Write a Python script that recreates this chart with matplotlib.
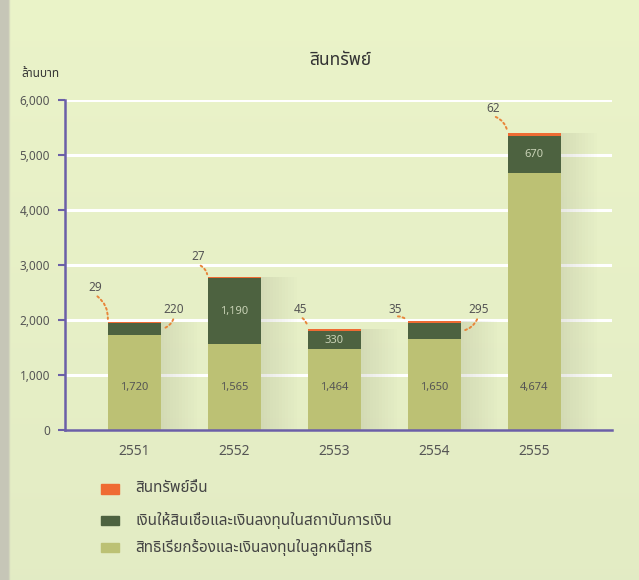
import matplotlib
matplotlib.use("Agg")
import matplotlib.pyplot as plt
import numpy as np
from matplotlib import font_manager
from matplotlib.ft2font import FT2Font
from matplotlib.patches import Rectangle

years = ["2551", "2552", "2553", "2554", "2555"]
receivables = [1720, 1565, 1464, 1650, 4674]
loans = [220, 1190, 330, 295, 670]
other_assets = [29, 27, 45, 35, 62]

series_names = [
    "สินทรัพย์อื่น",
    "เงินให้สินเชื่อและเงินลงทุนในสถาบันการเงิน",
    "สิทธิเรียกร้องและเงินลงทุนในลูกหนี้สุทธิ",
]
title = "สินทรัพย์"
unit_label = "ล้านบาท"
yticks = [0, 1000, 2000, 3000, 4000, 5000, 6000]

C_LIGHT = "#bcc174"
C_DARK = "#4d6240"
C_ORANGE = "#ef6b33"
C_AXIS = "#6b5fa8"
C_TEXT = "#555555"


def thai_family():
    # pick an installed family that actually has Thai glyphs
    found = []
    for f in font_manager.fontManager.ttflist:
        try:
            if 0x0E2A in FT2Font(f.fname).get_charmap():
                found.append(f.name)
        except Exception:
            pass
    for pref in ["Noto Sans Thai", "Noto Sans Thai UI", "Loma", "Garuda", "Tlwg Typo"]:
        if pref in found:
            return pref
    return found[0] if found else "DejaVu Sans"


FAM = [thai_family(), "DejaVu Sans"]
plt.rcParams["font.family"] = FAM

fig = plt.figure(figsize=(6.39, 5.80), dpi=100)
fig.patch.set_facecolor("#e3e9bd")

# soft page background
bg = fig.add_axes([0, 0, 1, 1], zorder=-10)
gy, gx = np.mgrid[0:1:200j, 0:1:200j]
base = np.array([0.89, 0.925, 0.77])
img = np.ones((200, 200, 3)) * base
img += (0.03 * (1 - gy))[..., None] * np.array([1, 1, 0.6])
img[:, :3] = np.array([0.78, 0.78, 0.72])
bg.imshow(np.clip(img, 0, 1), extent=[0, 1, 0, 1], aspect="auto")
bg.axis("off")

ax = fig.add_axes([0.102, 0.2586, 0.856, 0.569])
ax.set_facecolor("none")
x = np.arange(len(years))
w = 0.53

ax.set_xlim(-0.69, 4.78)
ax.set_ylim(0, 6000)
for yv in yticks[1:]:
    ax.axhline(yv, color="white", lw=2.2, zorder=1)

# faded shadows to the right of each bar
totals = np.array(receivables) + np.array(loans) + np.array(other_assets)
for k in range(12):
    ax.bar(x + w / 2 + 0.03 * k + 0.015, totals, width=0.03, color="#85856c",
           alpha=0.18 * (1 - k / 12), zorder=1.5, linewidth=0)

ax.bar(x, receivables, w, color=C_LIGHT, zorder=2)
ax.bar(x, loans, w, bottom=receivables, color=C_DARK, zorder=2)
bottom2 = np.array(receivables) + np.array(loans)
ax.bar(x, other_assets, w, bottom=bottom2, color=C_ORANGE, zorder=2)

for xi, v in zip(x, receivables):
    ax.text(xi, 780, f"{v:,}", ha="center", va="center", fontsize=8,
            color=C_TEXT, zorder=3)
for i in [1, 2, 4]:
    ax.text(x[i], receivables[i] + loans[i] / 2, f"{loans[i]:,}", ha="center",
            va="center", fontsize=8, color="#c9d2b6", zorder=3)

# callouts with dotted curved leaders
lead = dict(arrowstyle="-", color="#e8853a", lw=1.4, linestyle=(0, (1, 1.5)))
callouts = [
    (0, other_assets[0], -0.39, 2600, "left_top", -0.3),
    (0, loans[0], 0.40, 2200, "right_mid", -0.3),
    (1, other_assets[1], 0.64, 3150, "left_top", -0.3),
    (2, other_assets[2], 1.66, 2200, "left_top", -0.3),
    (3, other_assets[3], 2.61, 2200, "left_top", -0.3),
    (3, loans[3], 3.44, 2200, "right_mid", -0.3),
    (4, other_assets[4], 3.59, 5850, "left_top", -0.3),
]
for i, val, tx, ty, where, rad in callouts:
    if where == "left_top":
        target = (x[i] - w / 2, totals[i])
    else:
        target = (x[i] + w / 2, receivables[i] + loans[i] / 2)
    ax.annotate("", xy=target, xytext=(tx, ty - 140),
                arrowprops=dict(connectionstyle=f"arc3,rad={rad}", **lead),
                zorder=3)
    ax.text(tx, ty, f"{val:,}", ha="center", va="center", fontsize=8.5,
            color=C_TEXT, zorder=3)

ax.set_yticks(yticks)
ax.set_yticklabels([f"{v:,}" for v in yticks], fontsize=8.5, color=C_TEXT)
ax.set_xticks(x)
ax.set_xticklabels(years, fontsize=10, color=C_TEXT)
ax.tick_params(axis="x", length=0, pad=10)
ax.tick_params(axis="y", length=5, width=1.5, color=C_AXIS, pad=6)
for s in ["top", "right"]:
    ax.spines[s].set_visible(False)
ax.spines["left"].set_color(C_AXIS)
ax.spines["bottom"].set_color(C_AXIS)
ax.spines["left"].set_linewidth(1.8)
ax.spines["bottom"].set_linewidth(1.8)

fig.text(0.532, 0.897, title, ha="center", va="center", fontsize=12.5,
         color="#333333")
fig.text(0.063, 0.874, unit_label, ha="center", va="center", fontsize=8.5,
         color="#333333", fontweight="bold")

# legend drawn by hand
leg_colors = [C_ORANGE, C_DARK, C_LIGHT]
leg_y = [0.157, 0.103, 0.056]
for c, yy, name in zip(leg_colors, leg_y, series_names):
    fig.patches.append(Rectangle((0.158, yy - 0.008), 0.029, 0.016,
                                 transform=fig.transFigure, color=c))
    fig.text(0.212, yy, name, ha="left", va="center", fontsize=11,
             color="#444444")

fig.savefig("out.png", dpi=100, facecolor=fig.get_facecolor())
